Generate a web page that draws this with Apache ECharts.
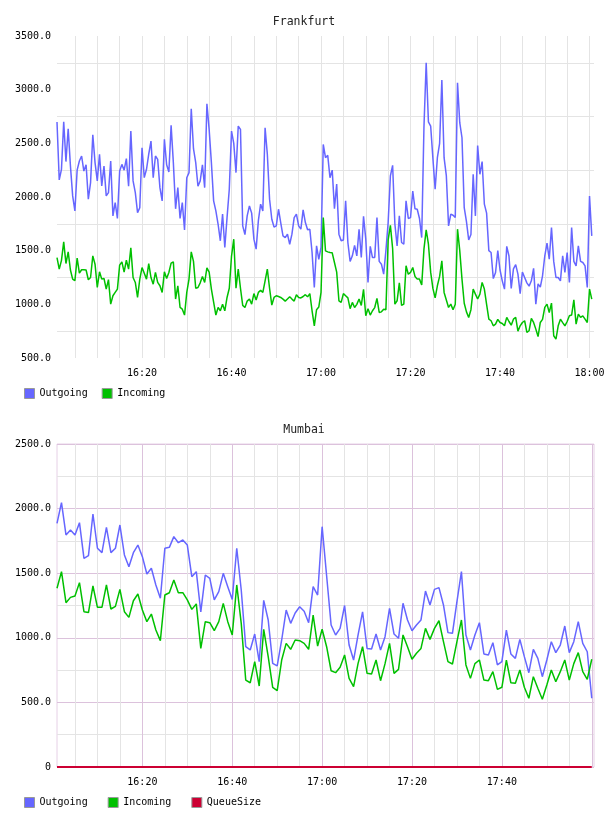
<!DOCTYPE html>
<html>
<head>
<meta charset="utf-8">
<title>Frankfurt / Mumbai</title>
<script src="https://cdn.jsdelivr.net/npm/echarts@6/dist/echarts.min.js"></script>
<style>
    html, body { margin: 0; padding: 0; background: #fff; }
    #chart { width: 608px; height: 816px; }
</style>
</head>
<body>
<div id="chart"></div>
<script>
    // time is kept as minutes after 16:00
    var frankfurtStart = 1, frankfurtStep = 0.5
    var mumbaiStart = 1, mumbaiStep = 1

    var frankfurtOutgoing = [
        2698, 2159, 2258, 2700, 2330, 2636, 2290, 2010, 1870, 2250,
        2335, 2382, 2242, 2300, 1980, 2134, 2580, 2320, 2150, 2397,
        2103, 2289, 2010, 2041, 2335, 1824, 1948, 1800, 2242, 2304,
        2250, 2357, 2100, 2614, 2150, 2041, 1855, 1900, 2459, 2180,
        2258, 2400, 2521, 2180, 2382, 2350, 2087, 1964, 2537, 2300,
        2233, 2667, 2320, 1890, 2087, 1800, 1948, 1694, 2180, 2227,
        2822, 2450, 2320, 2100, 2150, 2300, 2087, 2869, 2630, 2320,
        1964, 1870, 1746, 1592, 1840, 1530, 1808, 2072, 2614, 2500,
        2227, 2661, 2630, 1731, 1650, 1824, 1917, 1850, 1607, 1514,
        1780, 1933, 1870, 2645, 2400, 1980, 1793, 1720, 1731, 1886,
        1760, 1638, 1622, 1654, 1560, 1654, 1808, 1840, 1731, 1700,
        1880, 1762, 1694, 1700, 1483, 1157, 1545, 1420, 1530, 2490,
        2366, 2388, 2180, 2250, 1892, 2120, 1654, 1592, 1600, 1964,
        1576, 1400, 1452, 1550, 1452, 1700, 1436, 1820, 1607, 1204,
        1540, 1436, 1436, 1808, 1400, 1374, 1281, 1500, 1762, 2196,
        2295, 1750, 1545, 1824, 1576, 1560, 1964, 1800, 1808, 2056,
        1890, 1886, 1800, 1622, 2650, 3250, 2700, 2661, 2360, 2072,
        2366, 2500, 3089, 2366, 2200, 1731, 1840, 1830, 1808, 3064,
        2692, 2552, 1900, 1770, 1600, 1650, 2212, 1824, 2480, 2212,
        2330, 1933, 1850, 1500, 1483, 1240, 1297, 1500, 1320, 1219,
        1142, 1540, 1450, 1148, 1330, 1370, 1281, 1100, 1300, 1250,
        1200, 1170, 1219, 1335, 1002, 1190, 1160, 1266, 1450, 1570,
        1421, 1715, 1400, 1250, 1250, 1219, 1452, 1297, 1483, 1204,
        1715, 1400, 1359, 1545, 1400, 1390, 1359, 1157, 2010, 1638
    ]
    var frankfurtIncoming = [
        1436, 1328, 1410, 1582, 1380, 1489, 1320, 1235, 1220, 1430,
        1290, 1322, 1322, 1320, 1229, 1250, 1452, 1374, 1157, 1303,
        1235, 1241, 1142, 1230, 1002, 1080, 1111, 1142, 1365, 1396,
        1300, 1411, 1328, 1526, 1250, 1204, 1064, 1235, 1343, 1290,
        1235, 1380, 1250, 1188, 1297, 1204, 1173, 1111, 1303, 1241,
        1297, 1384, 1396, 1049, 1173, 971, 955, 900, 1111, 1235,
        1489, 1400, 1150, 1157, 1200, 1260, 1204, 1340, 1300, 1142,
        1020, 900, 971, 940, 1000, 940, 1064, 1150, 1450, 1607,
        1150, 1328, 1150, 990, 971, 1030, 1050, 1002, 1100, 1040,
        1111, 1130, 1111, 1219, 1328, 1150, 993, 1064, 1080, 1073,
        1064, 1049, 1030, 1050, 1070, 1049, 1030, 1090, 1064, 1060,
        1073, 1090, 1070, 1100, 940, 800, 950, 975, 1111, 1808,
        1498, 1489, 1483, 1480, 1390, 1300, 1033, 1018, 1100, 1080,
        1060, 960, 1018, 971, 1000, 1049, 990, 1140, 894, 960,
        900, 940, 970, 1055, 924, 930, 955, 949, 1600, 1735,
        1520, 1002, 1033, 1200, 990, 1002, 1359, 1280, 1297, 1343,
        1260, 1235, 1235, 1180, 1514, 1694, 1560, 1300, 1148, 1060,
        1173, 1260, 1405, 1111, 1040, 971, 1002, 949, 1000, 1700,
        1500, 1235, 1010, 930, 878, 950, 1142, 1095, 1050, 1095,
        1204, 1142, 1000, 862, 847, 800, 816, 860, 831, 822,
        800, 878, 840, 806, 862, 878, 750, 800, 831, 847,
        738, 754, 870, 831, 769, 700, 831, 860, 971, 1002,
        924, 1011, 707, 676, 800, 862, 830, 800, 840, 893,
        900, 1042, 816, 909, 878, 893, 862, 831, 1142, 1049
    ]

    var mumbaiOutgoing = [
        1886, 2046, 1796, 1834, 1796, 1891, 1615, 1636, 1958, 1693,
        1659, 1855, 1659, 1693, 1873, 1641, 1550, 1659, 1718, 1628,
        1494, 1538, 1409, 1306, 1693, 1700, 1783, 1736, 1757, 1718,
        1473, 1512, 1200, 1486, 1460, 1293, 1357, 1499, 1396, 1297,
        1693, 1370, 931, 906, 1029, 815, 1290, 1138, 802, 782,
        983, 1215, 1112, 1192, 1240, 1205, 1117, 1396, 1331, 1860,
        1480, 1099, 1022, 1073, 1250, 944, 828, 1022, 1200, 918,
        913, 1029, 906, 1009, 1228, 1029, 996, 1267, 1138, 1055,
        1099, 1138, 1362, 1254, 1375, 1388, 1254, 1040, 1035, 1280,
        1512, 1022, 906, 1022, 1117, 875, 867, 962, 790, 815,
        1060, 875, 841, 988, 854, 730, 911, 841, 699, 828,
        970, 885, 944, 1091, 885, 970, 1125, 957, 892, 532
    ]
    var mumbaiIncoming = [
        1383, 1512, 1272, 1313, 1324, 1427, 1202, 1195, 1401, 1236,
        1236, 1409, 1223, 1243, 1375, 1202, 1158, 1287, 1339, 1215,
        1125, 1184, 1060, 978, 1331, 1349, 1447, 1349, 1349, 1293,
        1220, 1262, 918, 1125, 1117, 1055, 1125, 1267, 1125, 1022,
        1409, 1112, 673, 652, 815, 627, 1066, 854, 617, 591,
        828, 957, 911, 983, 978, 957, 911, 1176, 936, 1066,
        931, 745, 730, 772, 867, 686, 622, 802, 931, 725,
        720, 828, 668, 800, 957, 725, 756, 1022, 931, 834,
        880, 918, 1073, 988, 1073, 1132, 970, 815, 797, 970,
        1138, 790, 686, 800, 828, 673, 668, 738, 601, 617,
        828, 652, 648, 751, 617, 532, 699, 609, 524, 635,
        751, 660, 738, 828, 673, 800, 885, 738, 679, 834
    ]
    var mumbaiQueueSize = [
        0, 0, 0, 0, 0, 0, 0, 0, 0, 0, 0, 0, 0, 0, 0, 0, 0, 0, 0, 0,
        0, 0, 0, 0, 0, 0, 0, 0, 0, 0, 0, 0, 0, 0, 0, 0, 0, 0, 0, 0,
        0, 0, 0, 0, 0, 0, 0, 0, 0, 0, 0, 0, 0, 0, 0, 0, 0, 0, 0, 0,
        0, 0, 0, 0, 0, 0, 0, 0, 0, 0, 0, 0, 0, 0, 0, 0, 0, 0, 0, 0,
        0, 0, 0, 0, 0, 0, 0, 0, 0, 0, 0, 0, 0, 0, 0, 0, 0, 0, 0, 0,
        0, 0, 0, 0, 0, 0, 0, 0, 0, 0, 0, 0, 0, 0, 0, 0, 0, 0, 0, 0
    ]

    // grid lines every 5 minutes, labels every 20
    var gridMinutes = [5, 10, 15, 20, 25, 30, 35, 40, 45, 50, 55, 60,
        65, 70, 75, 80, 85, 90, 95, 100, 105, 110, 115, 120]
    var frankfurtLabels = [20, 40, 60, 80, 100, 120]
    var mumbaiLabels = [20, 40, 60, 80, 100]

    var FONT = 'DejaVu Sans Mono'
    var BLUE = '#6666ff', GREEN = '#00c000', RED = '#cc0033'
    var GRAY = '#e4e4e4', PURPLE = '#dcc2dc'

    function pairs(values, start, step) {
        var out = []
        for (var i = 0; i < values.length; i++) {
            out.push([start + i * step, values[i]])
        }
        return out
    }

    function hhmm(m) {
        var h = 16 + Math.floor(m / 60)
        var mm = Math.round(m % 60)
        return h + ':' + (mm < 10 ? '0' + mm : mm)
    }

    function yFmt(v) {
        return v === 0 ? '0' : v.toFixed(1)
    }

    function lineSeries(name, color, xi, data, width) {
        return {
            name: name,
            type: 'line',
            xAxisIndex: xi,
            yAxisIndex: xi,
            data: data,
            showSymbol: false,
            color: color,
            lineStyle: {width: width || 1.5, color: color},
            emphasis: {disabled: true}
        }
    }

    var chart = echarts.init(document.getElementById('chart'), null, {renderer: 'canvas'})

    chart.setOption({
        animation: false,
        title: [
            {text: 'Frankfurt', left: 'center', top: 11,
                textStyle: {fontFamily: FONT, fontSize: 11.5, fontWeight: 'normal', color: '#222'}},
            {text: 'Mumbai', left: 'center', top: 419,
                textStyle: {fontFamily: FONT, fontSize: 11.5, fontWeight: 'normal', color: '#222'}}
        ],
        legend: [
            {
                data: ['Outgoing', 'Incoming'],
                left: 19, top: 383,
                icon: 'rect', itemWidth: 10, itemHeight: 10, itemGap: 14,
                itemStyle: {borderColor: '#999', borderWidth: 1},
                textStyle: {fontFamily: FONT, fontSize: 10, color: '#000'}
            },
            {
                data: ['Outgoing', 'Incoming', 'QueueSize'],
                left: 19, top: 792,
                icon: 'rect', itemWidth: 10, itemHeight: 10, itemGap: 20,
                itemStyle: {borderColor: '#999', borderWidth: 1},
                textStyle: {fontFamily: FONT, fontSize: 10, color: '#000'}
            }
        ],
        grid: [
            {left: 57, top: 36, width: 537, height: 322},
            {left: 57, top: 444, width: 537, height: 323, show: true,
                borderColor: '#e6d0e6', borderWidth: 1, backgroundColor: 'transparent'}
        ],
        xAxis: [
            {
                type: 'value', gridIndex: 0, min: 1, max: 121,
                axisLine: {show: false},
                axisTick: {show: false, customValues: gridMinutes},
                axisLabel: {customValues: frankfurtLabels, formatter: hhmm, margin: 10,
                    fontFamily: FONT, fontSize: 10, color: '#000'},
                splitLine: {show: true, lineStyle: {color: GRAY, width: 1}}
            },
            {
                type: 'value', gridIndex: 1, min: 1, max: 120.5,
                axisLine: {show: false},
                axisTick: {show: false, customValues: gridMinutes},
                axisLabel: {customValues: mumbaiLabels, formatter: hhmm, margin: 10,
                    fontFamily: FONT, fontSize: 10, color: '#000'},
                splitLine: {show: true, lineStyle: {color: [GRAY, GRAY, GRAY, PURPLE], width: 1}}
            }
        ],
        yAxis: [
            {
                type: 'value', gridIndex: 0, min: 500, max: 3500, interval: 500,
                axisLine: {show: false}, axisTick: {show: false},
                axisLabel: {formatter: yFmt, margin: 6, fontFamily: FONT, fontSize: 10, color: '#000'},
                splitLine: {show: false},
                minorTick: {show: false, splitNumber: 2},
                minorSplitLine: {show: true, lineStyle: {color: GRAY, width: 1}}
            },
            {
                type: 'value', gridIndex: 1, min: 0, max: 2500, interval: 500,
                axisLine: {show: false}, axisTick: {show: false},
                axisLabel: {formatter: yFmt, margin: 6, fontFamily: FONT, fontSize: 10, color: '#000'},
                splitLine: {show: true, lineStyle: {color: PURPLE, width: 1}},
                minorTick: {show: false, splitNumber: 2},
                minorSplitLine: {show: true, lineStyle: {color: GRAY, width: 1}}
            }
        ],
        series: [
            lineSeries('Outgoing', BLUE, 0, pairs(frankfurtOutgoing, frankfurtStart, frankfurtStep)),
            lineSeries('Incoming', GREEN, 0, pairs(frankfurtIncoming, frankfurtStart, frankfurtStep)),
            lineSeries('Outgoing', BLUE, 1, pairs(mumbaiOutgoing, mumbaiStart, mumbaiStep)),
            lineSeries('Incoming', GREEN, 1, pairs(mumbaiIncoming, mumbaiStart, mumbaiStep)),
            lineSeries('QueueSize', RED, 1, pairs(mumbaiQueueSize, mumbaiStart, mumbaiStep), 2)
        ]
    })
</script>
</body>
</html>
